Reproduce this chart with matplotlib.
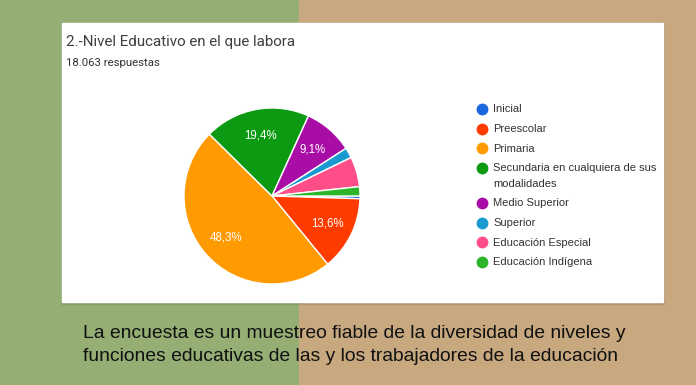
import matplotlib.pyplot as plt
from matplotlib.patches import Rectangle

# survey answers, "Nivel Educativo en el que labora" (18.063 respuestas)
categories = ['Inicial', 'Preescolar', 'Primaria',
              'Secundaria en cualquiera de sus\nmodalidades',
              'Medio Superior', 'Superior', 'Educación Especial',
              'Educación Indígena']
shares = [0.5, 13.6, 48.3, 19.4, 9.1, 1.9, 5.5, 1.7]
colors = ['#1a66dd', '#ff3b00', '#ff9a00', '#0c9a12',
          '#a80ea6', '#1a9ad0', '#ff4d88', '#2db52a']

title = '2.-Nivel Educativo en el que labora'
subtitle = '18.063 respuestas'
caption = ('La encuesta es un muestreo fiable de la diversidad de niveles y\n'
           'funciones educativas de las y los trabajadores de la educación')

W, H = 696, 385
fig = plt.figure(figsize=(W / 100, H / 100), dpi=100)

# overlay axes in pixel units for background, panel and texts
bg = fig.add_axes([0, 0, 1, 1])
bg.set_xlim(0, W)
bg.set_ylim(H, 0)
bg.axis('off')
bg.add_patch(Rectangle((0, 0), 299, H, color='#94ae74', zorder=0))
bg.add_patch(Rectangle((299, 0), W - 299, H, color='#c7a87f', zorder=0))
# soft shadow then white card
bg.add_patch(Rectangle((62, 24), 602, 280, color='#000000', alpha=0.07, zorder=1))
bg.add_patch(Rectangle((62, 23), 601, 279, color='white', zorder=2))

bg.text(66, 42, title, fontsize=10.9, family='Roboto',
        color='#3c4043', va='center', zorder=3)
bg.text(66, 63, subtitle, fontsize=8.2, family='Roboto',
        color='#333333', va='center', zorder=3)
bg.text(83, 345, caption, fontsize=13.9, family='Liberation Sans',
        color='#111111', va='center', linespacing=1.42, zorder=3)

# legend drawn by hand so the wrapped label keeps its dot on the first line
y = 109
for name, c in zip(categories, colors):
    bg.plot(482, y, 'o', ms=7.5, color=c, zorder=3)
    for k, line in enumerate(name.split('\n')):
        bg.text(493, y + 16 * k + 0.5, line, fontsize=8, family='Liberation Sans',
                color='#333333', va='center', zorder=3)
    y += 19.5 + 16 * name.count('\n')

# pie
cx, cy, r = 272, 196, 88
ax = fig.add_axes([(cx - r) / W, (H - cy - r) / H, 2 * r / W, 2 * r / H])
ax.set_zorder(5)


def fmt(p):
    return f'{p:.1f}%'.replace('.', ',') if p > 8 else ''


wedges, texts, autotexts = ax.pie(
    shares, colors=colors, startangle=0, counterclock=False,
    autopct=fmt, pctdistance=0.7,
    wedgeprops=dict(edgecolor='white', linewidth=1),
    textprops=dict(color='white', fontsize=8.3, family='Liberation Sans'))
ax.set_xlim(-1, 1)
ax.set_ylim(-1, 1)
ax.set_aspect('equal')

fig.savefig('out.png', dpi=100)
